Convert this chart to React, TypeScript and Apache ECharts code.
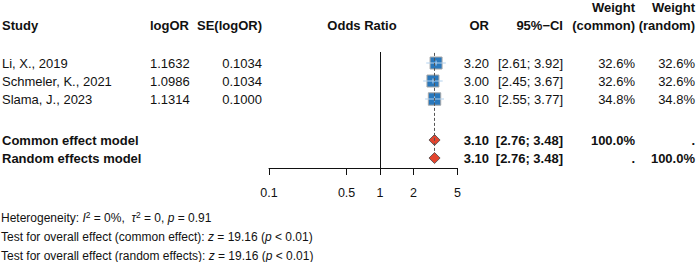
import React, { useEffect, useRef } from "react";
import * as echarts from "echarts";

// Individual studies
const studies = ["Li, X., 2019", "Schmeler, K., 2021", "Slama, J., 2023"];
const logOR = [1.1632, 1.0986, 1.1314];
const seLogOR = [0.1034, 0.1034, 0.1];
const oddsRatio = [3.2, 3.0, 3.1];
const ciLower = [2.61, 2.45, 2.55];
const ciUpper = [3.92, 3.67, 3.77];
const weightCommon = [32.6, 32.6, 34.8];
const weightRandom = [32.6, 32.6, 34.8];

// Pooled estimates
const models = ["Common effect model", "Random effects model"];
const modelOR = [3.1, 3.1];
const modelLower = [2.76, 2.76];
const modelUpper = [3.48, 3.48];
const modelWeightCommon: (number | null)[] = [100, null];
const modelWeightRandom: (number | null)[] = [null, 100];

// Odds-ratio axis ticks
const axisTicks = [0.1, 0.5, 1, 2, 5];

const heterogeneity = "Heterogeneity: {i|I}{sup|2} = 0%,  {i|τ}{sup|2} = 0, {i|p} = 0.91";
const testCommon = "Test for overall effect (common effect): {i|z} = 19.16 ({i|p} < 0.01)";
const testRandom = "Test for overall effect (random effects): {i|z} = 19.16 ({i|p} < 0.01)";

const FONT = "'Liberation Sans', Arial, Helvetica, sans-serif";
const INK = "#111111";
const TABLE_SIZE = 13;
const FOOT_SIZE = 12;

// Row layout: first study row centre and row pitch, in pixels
const ROW0 = 63;
const PITCH = 18;
const SUMMARY_OFFSET = 4.28;
const rowPx = (r: number) => ROW0 + PITCH * r;
const GRID_TOP = 52;
const GRID_BOTTOM = 168;

const fmtW = (w: number | null) => (w == null ? "." : `${w.toFixed(1)}%`);
const fmtCI = (lo: number, hi: number) => `[${lo.toFixed(2)}; ${hi.toFixed(2)}]`;

function txt(
  text: string,
  x: number,
  y: number,
  align: "left" | "right" | "center",
  bold = false,
  size = TABLE_SIZE
) {
  return {
    type: "text",
    x,
    y,
    silent: true,
    style: {
      text,
      fill: INK,
      fontFamily: FONT,
      fontSize: size,
      fontWeight: bold ? "bold" : "normal",
      align,
      verticalAlign: "middle",
    },
  };
}

function footer(text: string, y: number) {
  return {
    type: "text",
    x: 1,
    y,
    silent: true,
    style: {
      text,
      fill: INK,
      fontFamily: FONT,
      fontSize: FOOT_SIZE,
      align: "left",
      verticalAlign: "middle",
      lineHeight: 16,
      rich: {
        i: { fontStyle: "italic", fontSize: FOOT_SIZE, fontFamily: FONT, fill: INK },
        sup: { fontSize: 8.5, fontFamily: FONT, fill: INK, verticalAlign: "top", lineHeight: 10 },
      },
    },
  };
}

export default function App() {
  const ref = useRef<HTMLDivElement>(null);

  useEffect(() => {
    if (!ref.current) return;
    const chart = echarts.init(ref.current, null, { renderer: "svg" });

    const yMin = (GRID_TOP - ROW0) / PITCH;
    const yMax = (GRID_BOTTOM - ROW0) / PITCH;

    const studyData = studies.map((_, i) => [
      Math.log10(oddsRatio[i]),
      Math.log10(ciLower[i]),
      Math.log10(ciUpper[i]),
      i,
      weightCommon[i],
    ]);
    const modelData = models.map((_, j) => [
      Math.log10(modelOR[j]),
      Math.log10(modelLower[j]),
      Math.log10(modelUpper[j]),
      SUMMARY_OFFSET + j,
    ]);

    const graphics: any[] = [
      txt("Study", 2, 25, "left", true),
      txt("logOR", 150, 25, "left", true),
      txt("SE(logOR)", 262, 25, "right", true),
      txt("Odds Ratio", 362, 25, "center", true),
      txt("OR", 489, 25, "right", true),
      txt("95%\u2212CI", 563, 25, "right", true),
      txt("Weight", 635, 7, "right", true),
      txt("(common)", 635, 25, "right", true),
      txt("Weight", 695, 7, "right", true),
      txt("(random)", 695, 25, "right", true),
    ];
    studies.forEach((s, i) => {
      const y = rowPx(i);
      graphics.push(
        txt(s, 2, y, "left"),
        txt(logOR[i].toFixed(4), 150, y, "left"),
        txt(seLogOR[i].toFixed(4), 262, y, "right"),
        txt(oddsRatio[i].toFixed(2), 489, y, "right"),
        txt(fmtCI(ciLower[i], ciUpper[i]), 563, y, "right"),
        txt(fmtW(weightCommon[i]), 635, y, "right"),
        txt(fmtW(weightRandom[i]), 695, y, "right")
      );
    });
    models.forEach((m, j) => {
      const y = rowPx(SUMMARY_OFFSET + j);
      graphics.push(
        txt(m, 2, y, "left", true),
        txt(modelOR[j].toFixed(2), 489, y, "right", true),
        txt(fmtCI(modelLower[j], modelUpper[j]), 563, y, "right", true),
        txt(fmtW(modelWeightCommon[j]), 635, y, "right", true),
        txt(fmtW(modelWeightRandom[j]), 695, y, "right", true)
      );
    });
    graphics.push(footer(heterogeneity, 218), footer(testCommon, 237), footer(testRandom, 256));

    const tickVals = axisTicks.map((t) => Math.log10(t));
    const pooledX = Math.log10(modelOR[0]);

    chart.setOption({
      animation: false,
      grid: {
        left: 269,
        right: 700 - (380 + 111 * Math.log10(5)),
        top: GRID_TOP,
        height: GRID_BOTTOM - GRID_TOP,
      },
      xAxis: {
        type: "value",
        min: Math.log10(axisTicks[0]),
        max: Math.log10(axisTicks[axisTicks.length - 1]),
        axisLine: { show: true, onZero: false, lineStyle: { color: INK, width: 1 } },
        axisTick: { show: true, length: 7, customValues: tickVals, lineStyle: { color: INK } },
        axisLabel: {
          customValues: tickVals,
          margin: 18,
          color: INK,
          fontFamily: FONT,
          fontSize: 12.5,
          formatter: (v: number) => {
            let best = axisTicks[0];
            axisTicks.forEach((t) => {
              if (Math.abs(Math.log10(t) - v) < Math.abs(Math.log10(best) - v)) best = t;
            });
            return String(best);
          },
        },
        splitLine: { show: false },
      },
      yAxis: {
        type: "value",
        min: yMin,
        max: yMax,
        inverse: true,
        show: false,
      },
      series: [
        {
          type: "custom",
          silent: true,
          data: studyData,
          renderItem: (_p: any, api: any) => {
            const r = api.value(3);
            const est = api.coord([api.value(0), r]);
            const lo = api.coord([api.value(1), r]);
            const hi = api.coord([api.value(2), r]);
            const size = 12 * Math.sqrt(api.value(4) / 32.6);
            return {
              type: "group",
              children: [
                {
                  type: "rect",
                  shape: { x: est[0] - size / 2, y: est[1] - size / 2, width: size, height: size },
                  style: { fill: "#2a78bc", stroke: "#a8a8a8", lineWidth: 1 },
                },
                {
                  type: "line",
                  shape: { x1: lo[0], y1: lo[1], x2: hi[0], y2: hi[1] },
                  style: { stroke: "#b3d2ee", lineWidth: 1 },
                },
                {
                  type: "line",
                  shape: { x1: est[0], y1: est[1] - 2.5, x2: est[0], y2: est[1] + 2.5 },
                  style: { stroke: "#b3d2ee", lineWidth: 1 },
                },
              ],
            };
          },
          markLine: {
            silent: true,
            symbol: "none",
            label: { show: false },
            data: [
              [
                { coord: [pooledX, yMin + 0.05], lineStyle: { color: "#555", type: [3, 2], width: 1 } },
                { coord: [pooledX, SUMMARY_OFFSET + 1 - 0.3] },
              ],
              { xAxis: 0, lineStyle: { color: INK, type: "solid", width: 1 } },
            ],
          },
          z: 3,
        },
        {
          type: "custom",
          silent: true,
          data: modelData,
          renderItem: (_p: any, api: any) => {
            const r = api.value(3);
            const est = api.coord([api.value(0), r]);
            const lo = api.coord([api.value(1), r]);
            const hi = api.coord([api.value(2), r]);
            const h = 5.5;
            return {
              type: "polygon",
              shape: {
                points: [
                  [lo[0], lo[1]],
                  [est[0], est[1] - h],
                  [hi[0], hi[1]],
                  [est[0], est[1] + h],
                ],
              },
              style: { fill: "#e2452f", stroke: "#4a4a4a", lineWidth: 0.8 },
            };
          },
          z: 4,
        },
      ],
      graphic: graphics,
    });

    return () => chart.dispose();
  }, []);

  return (
    <div
      ref={ref}
      style={{ position: "fixed", left: 0, top: 0, width: 700, height: 262, background: "#fff" }}
    />
  );
}
